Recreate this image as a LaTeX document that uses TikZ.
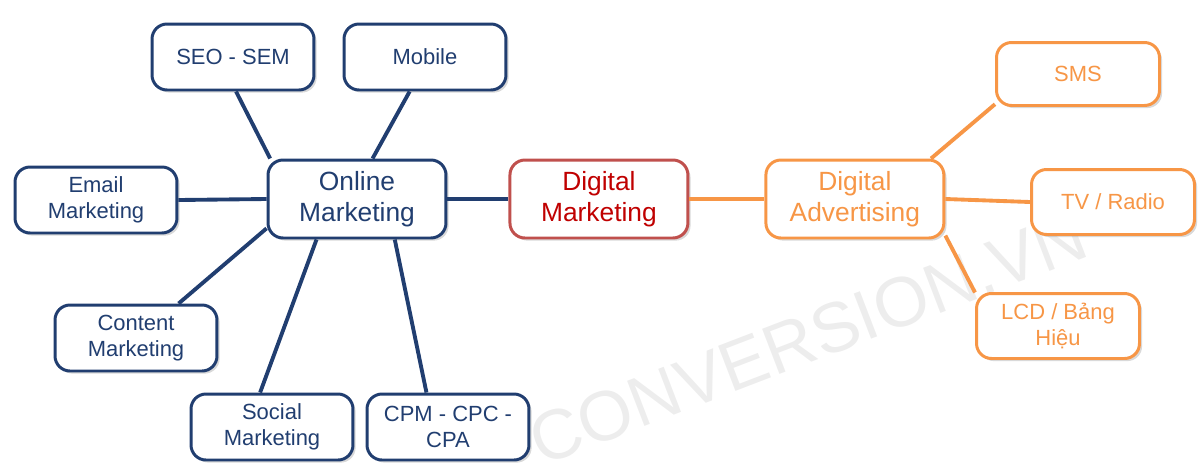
\documentclass[tikz,border=0pt]{standalone}
\usepackage{fontspec}
\setmainfont{Liberation Sans}
\usetikzlibrary{shadows,positioning}
\definecolor{navy}{RGB}{33,62,112}
\definecolor{dmred}{RGB}{192,0,0}
\definecolor{dmborder}{RGB}{192,80,77}
\definecolor{advorange}{RGB}{247,150,70}

\begin{document}
\begin{tikzpicture}[x=0.02cm, y=-0.02cm,
	box/.style={rectangle, rounded corners=0.3cm, align=center, fill=white, line width=1.7pt,
		drop shadow={opacity=0.3, shadow xshift=1.5pt, shadow yshift=-1.5pt}},
	subbox/.style={box, draw=navy, text=navy, minimum width=3.24cm, minimum height=1.32cm,
		font=\fontsize{12.5}{15}\selectfont},
	mainbox/.style={box, minimum width=3.56cm, minimum height=1.56cm, font=\fontsize{15}{18}\selectfont},
	advbox/.style={box, draw=advorange, text=advorange, minimum width=3.26cm, minimum height=1.3cm,
		font=\fontsize{12.5}{15}\selectfont},
	blueline/.style={draw=navy, line width=2.2pt},
	orangeline/.style={draw=advorange, line width=2.2pt}]
			\useasboundingbox (0,0) rectangle (1200,471);
			
			\node[rotate=21, text=black!7, font=\fontsize{40}{40}\selectfont] (wm) at (808,338) {CONVERSION.VN};
			
			\node[mainbox, draw=navy, text=navy] (on) at (357,199) {Online\\Marketing};
			
			\node[mainbox, draw=dmborder, text=dmred, right = 1.22cm of on] (dm) {Digital\\Marketing};
			
			\node[mainbox, draw=advorange, text=advorange, right = 1.5cm of dm] (da) {Digital\\Advertising};
			
			\node[subbox] (seo) at (233,57) {SEO - SEM};
			\node[subbox] (mob) at (425,57) {Mobile};
			\node[subbox] (email) at (96,200) {Email\\Marketing};
			\node[subbox] (content) at (136,338) {Content\\Marketing};
			\node[subbox] (social) at (272,427) {Social\\Marketing};
			\node[subbox] (cpm) at (448,427) {CPM - CPC -\\CPA};
			
			\node[advbox, minimum height=1.26cm] (sms) at (1078,74) {SMS};
			\node[advbox] (tv) at (1113,202) {TV / Radio};
			\node[advbox] (lcd) at (1058,326) {LCD / Bảng\\Hiệu};
			
			\draw[blueline] (seo.275) -- (on.155);
			\draw[blueline] (mob.246) -- (on.69);
			\draw[blueline] (email.east) -- (on.west);
			\draw[blueline] (content.39) -- (on.198);
			\draw[blueline] (social.109) -- (on.225);
			\draw[blueline] (cpm.122) -- (on.313);
			\draw[blueline] (on.east) -- (dm.west);
			
			\draw[orangeline] (dm.east) -- (da.west);
			\draw[orangeline] (da.28) -- (sms.200);
			\draw[orangeline] (da.east) -- (tv.west);
			\draw[orangeline] (da.338) -- (lcd.158);
		\end{tikzpicture}
\end{document}
